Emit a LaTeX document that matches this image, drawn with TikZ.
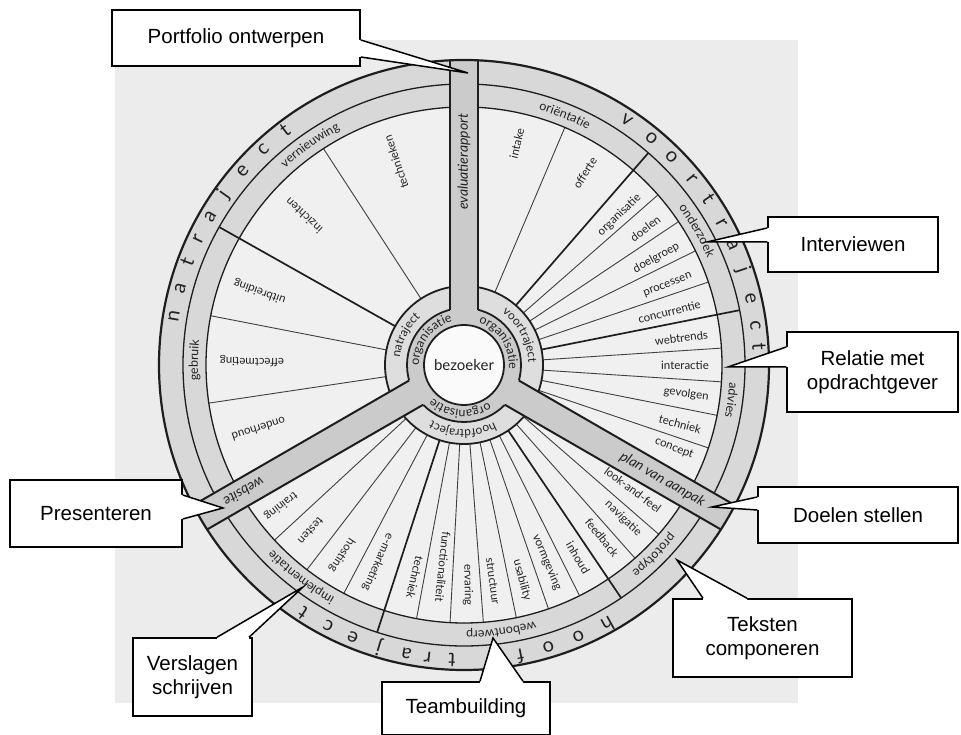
\documentclass[tikz,border=0pt]{standalone}
\usepackage{fontspec}
\setmainfont{Liberation Sans}
\newfontfamily\wf{Lato}
\usetikzlibrary{decorations.text,calc}
\definecolor{pagec}{HTML}{ECECEC}
\definecolor{ringc}{HTML}{D8D8D8}
\definecolor{secc}{HTML}{F0F0F0}
\definecolor{bandc}{HTML}{CBCBCB}
\definecolor{hubc}{HTML}{DEDEDE}
\definecolor{txtc}{HTML}{222222}
\definecolor{linec}{HTML}{1E1E1E}
\tikzset{
 lab/.style={font=\wf\fontsize{11.5}{13}\selectfont, text=txtc, inner sep=0pt},
 bandlab/.style={font=\wf\itshape\fontsize{14}{16}\selectfont, text=txtc, inner sep=0pt},
 letter/.style={font=\wf\fontsize{20}{22}\selectfont, text=txtc, inner sep=0pt, anchor=base},
 callout/.style={draw=black, line width=1.5pt, fill=white, inner sep=0pt, align=center, font=\fontsize{20.5}{24}\selectfont},
 ptrline/.style={draw=black, line width=1.5pt, line join=miter},
 thinspoke/.style={draw=linec!85, line width=0.9pt},
 thickspoke/.style={draw=linec, line width=1.7pt},
}
\newcommand\ringtext[4]{\path[decorate,decoration={text along path,text align=center,text color=txtc,text={#4}}] ({#1+#3}:#2) arc[start angle={#1+#3}, end angle={#1-#3}, radius=#2];}
\newcommand\ptr[4]{\fill[white] ($(#1)+#4$) -- (#1) -- (#2) -- (#3) -- ($(#3)+#4$) -- cycle; \draw[ptrline] (#1) -- (#2) -- (#3);}
\begin{document}
\begin{tikzpicture}[x=1pt,y=1pt]
\useasboundingbox (0,0) rectangle (961,735);
\fill[white] (0,0) rectangle (961,735);
\fill[pagec] (115,32) rectangle (798,695);
\begin{scope}[shift={(464,370)}]
 \fill[ringc] (0,0) circle[radius=305];
 \fill[secc] (0,0) circle[radius=258];
 \foreach \a in {67,41.25,33.75,26.25,18.75,3.75,-3.75,-11.25,-18.75,-41,-48.5,-63.4,-70.9,-78.3,-85.7,-93.1,-100.6,-117.75,-127.5,-137.25,123,169,188.5}
  \draw[thinspoke] (\a:79) -- (\a:258);
 \foreach \a in {49,11.25,-56,-108,150.6}
  \draw[thickspoke] (\a:79) -- (\a:281);
 \draw[linec, line width=1.3pt] (0,0) circle[radius=281] (0,0) circle[radius=258];
 \fill[hubc] (0,0) circle[radius=79];
 \draw[linec, line width=1.8pt] (0,0) circle[radius=79];
 \fill[bandc] (0,0) circle[radius=57];
 \draw[linec, line width=1.8pt] (0,0) circle[radius=57];
 \foreach \a in {90,-30,210} {
  \fill[bandc, rotate=\a] (0,-14) rectangle (305,14);
  \draw[linec, line width=2pt, rotate=\a] (55.3,14) -- (304.7,14) (55.3,-14) -- (304.7,-14);
 }
 \fill[white!70!secc] (0,0) circle[radius=40];
 \draw[linec, line width=1.8pt] (0,0) circle[radius=40];
 \draw[linec, line width=2.2pt] (0,0) circle[radius=305];
 % sector labels
 \foreach \a/\r/\t [count=\i] in {76.6/228/intake, 57.8/227/offerte, 44/216/organisatie, 37/227/doelen, 29.1/220/doelgroep, 21.4/219/processen, 14.5/212/concurrentie, 7.1/219/webtrends, 0/221/interactie, -7.4/224/gevolgen, -15.3/224/techniek, -21.6/226/concept,
  -36.5/210/look-and-feel, -43.9/221/navigatie, -51.4/221/feedback, -59.4/224/inhoud, -67.2/214/vormgeving, -74.9/223/usability, -82.4/218/structuur, -89/220/ervaring, -96/203/functionaliteit, -103/218/techniek, -113.6/215/e-marketing, -122.7/226/hosting, -132.7/226/testen, -142.4/231/training,
  108.5/214/technieken, 137/219/inzichten, 160.3/217/uitbreiding, 179/212/effectmeting, 197.3/215/onderhoud}
  \node[lab, rotate=\a] (sec\i) at (\a:\r) {\t};
 % band labels
 \node[bandlab, rotate=90] (evalrap) at (90:203) {evaluatierapport};
 \node[bandlab, rotate=-30] (plan) at (-30:229) {plan van aanpak};
 \node[bandlab, rotate=210] (website) at (210:254) {website};
 % middle ring labels
 \ringtext{68}{266}{40}{|\wf\fontsize{12.5}{14}\selectfont|oriëntatie}
 \ringtext{30}{266}{40}{|\wf\fontsize{12.5}{14}\selectfont|onderzoek}
 \ringtext{-7.5}{266}{30}{|\wf\fontsize{12.5}{14}\selectfont|advies}
 \ringtext{-45}{266}{30}{|\wf\fontsize{12.5}{14}\selectfont|prototype}
 \ringtext{-82}{266}{40}{|\wf\fontsize{12.5}{14}\selectfont|webontwerp}
 \ringtext{-127.5}{266}{40}{|\wf\fontsize{12.5}{14}\selectfont|implementatie}
 \ringtext{179}{266}{30}{|\wf\fontsize{12.5}{14}\selectfont|gebruik}
 \ringtext{125}{266}{40}{|\wf\fontsize{12.5}{14}\selectfont|vernieuwing}
 % hub labels
 \ringtext{28}{64.5}{60}{|\wf\fontsize{12}{14}\selectfont|voortraject}
 \ringtext{153}{64.5}{60}{|\wf\fontsize{12}{14}\selectfont|natraject}
 \ringtext{-91}{64.5}{60}{|\wf\fontsize{12}{14}\selectfont|hoofdtraject}
 \ringtext{143}{45}{70}{|\wf\fontsize{12.5}{14}\selectfont|organisatie}
 \ringtext{33}{45}{70}{|\wf\fontsize{12.5}{14}\selectfont|organisatie}
 \ringtext{-95}{45}{70}{|\wf\fontsize{12.5}{14}\selectfont|organisatie}
 \node[font=\wf\fontsize{15}{17}\selectfont, text=txtc] (bezoeker) at (0,0) {bezoeker};
 % outer ring letters
 \foreach \a/\l [count=\i] in {56.4/v,50.4/o,45.1/o,39.3/r,34.2/t,28.9/r,24.1/a,18.8/j,13.1/e,7.8/c,3.5/t,
   170.5/n,164.8/a,159.5/t,154.6/r,149.6/a,144.7/j,138.8/e,133/c,127.3/t,
   -61/h,-67.1/o,-73.3/o,-79/f,-92.3/t,-97.1/r,-101.3/a,-106.8/j,-112.2/e,-117.5/c,-123/t}
  \node[letter, rotate=\a-90] (let\i) at (\a:289) {\l};
\end{scope}
% callouts
\node[callout, minimum width=248pt, minimum height=56pt] (portfolio) at (236,697) {Portfolio ontwerpen};
\coordinate (pfA) at ($(portfolio.east)+(0,-2)$);
\coordinate (pfB) at ($(portfolio.east)+(0,-19)$);
\coordinate (pfT) at (468,662);
\ptr{pfA}{pfT}{pfB}{(-2,0)}
\node[callout, minimum width=170pt, minimum height=55pt] (interview) at (853,490.5) {Interviewen};
\coordinate (ivA) at ($(interview.west)+(0,16.5)$);
\coordinate (ivB) at ($(interview.west)+(0,2.5)$);
\coordinate (ivT) at (707,493);
\ptr{ivA}{ivT}{ivB}{(2,0)}
\node[callout, minimum width=171pt, minimum height=80pt] (relatie) at (872.5,363) {Relatie met\\opdrachtgever};
\coordinate (reA) at ($(relatie.west)+(0,25)$);
\coordinate (reB) at ($(relatie.west)+(0,5)$);
\coordinate (reT) at (728,368);
\ptr{reA}{reT}{reB}{(2,0)}
\node[callout, minimum width=200pt, minimum height=56pt] (doelen) at (858,220) {Doelen stellen};
\coordinate (doA) at ($(doelen.west)+(0,18)$);
\coordinate (doB) at ($(doelen.west)+(0,5)$);
\coordinate (doT) at (712,228);
\ptr{doA}{doT}{doB}{(2,0)}
\node[callout, minimum width=179pt, minimum height=78pt] (teksten) at (762.5,97) {Teksten\\componeren};
\coordinate (tkA) at ($(teksten.north)+(-59.5,0)$);
\coordinate (tkB) at ($(teksten.north)+(-15.5,0)$);
\coordinate (tkT) at (677,175);
\ptr{tkA}{tkT}{tkB}{(0,-2)}
\node[callout, minimum width=168pt, minimum height=53pt] (team) at (466,26.5) {Teambuilding};
\coordinate (tbA) at ($(team.north)+(14,0)$);
\coordinate (tbB) at ($(team.north)+(57,0)$);
\coordinate (tbT) at (493,97);
\ptr{tbA}{tbT}{tbB}{(0,-2)}
\node[callout, minimum width=119pt, minimum height=78pt] (verslagen) at (192.5,58) {Verslagen\\schrijven};
\coordinate (vsA) at ($(verslagen.north)+(24.5,0)$);
\coordinate (vsB) at ($(verslagen.north)+(56.5,0)$);
\coordinate (vsT) at (303,148);
\ptr{vsA}{vsT}{vsB}{(0,-2)}
\node[callout, minimum width=172pt, minimum height=67pt] (presenteren) at (96,221.5) {Presenteren};
\coordinate (prA) at ($(presenteren.east)+(0,18.5)$);
\coordinate (prB) at ($(presenteren.east)+(0,-5.5)$);
\coordinate (prT) at (223,227);
\ptr{prA}{prT}{prB}{(-2,0)}
\end{tikzpicture}
\end{document}
